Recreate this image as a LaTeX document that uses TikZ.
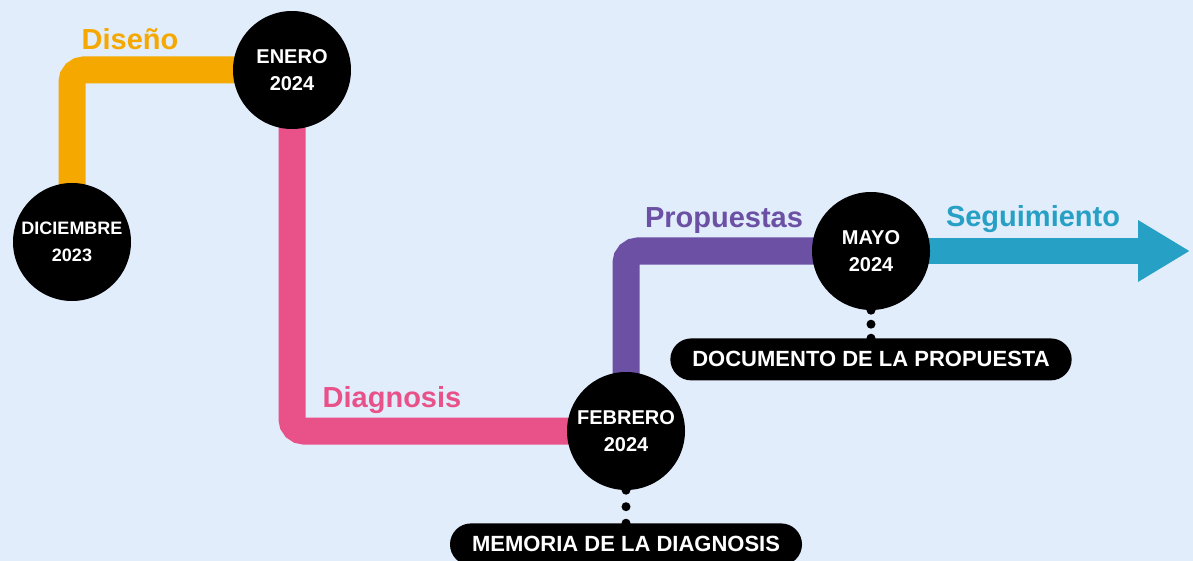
\documentclass[tikz,border=0pt]{standalone}
\usepackage{fontspec}
\setsansfont{Liberation Sans}
\usetikzlibrary{positioning,calc,arrows.meta}
\definecolor{cielo}{RGB}{226,237,252}
\definecolor{naranja}{RGB}{245,168,0}
\definecolor{rosa}{RGB}{233,81,137}
\definecolor{morado}{RGB}{107,80,164}
\definecolor{turquesa}{RGB}{38,160,196}
\pgfdeclarelayer{fondo}
\pgfsetlayers{fondo,main}
\tikzset{
  hito/.style={circle,fill=black,minimum size=118pt,inner sep=0pt,text=white,align=center,
    font=\sffamily\bfseries\fontsize{20}{27}\selectfont},
  tramo/.style={line width=27pt,rounded corners=12pt},
  etapa/.style={anchor=base,font=\sffamily\bfseries\fontsize{29}{29}\selectfont},
  entrega/.style={rectangle,rounded corners=21pt,fill=black,text=white,minimum height=42pt,
    inner xsep=22pt,inner ysep=0pt,font=\sffamily\bfseries\fontsize{22}{22}\selectfont},
}

\begin{document}
\begin{tikzpicture}[x=1pt,y=-1pt]
\useasboundingbox (0,0) rectangle (1193,561);
% hitos
\node[hito,font=\sffamily\bfseries\fontsize{18}{27}\selectfont] (dic) at (72,242) {DICIEMBRE\\2023};
\node[hito] (ene) at (292,70) {ENERO\\2024};
\node[hito] (feb) at (626,431) {FEBRERO\\2024};
\node[hito] (may) at (871,251) {MAYO\\2024};
\coordinate (fin) at (1190,251);
% entregables
\node[entrega,below=33pt of feb] (memoria) {MEMORIA DE LA DIAGNOSIS};
\node[entrega,below=28pt of may] (documento) {DOCUMENTO DE LA PROPUESTA};
\foreach \a/\b in {feb/memoria,may/documento}
  \foreach \t in {0,0.5,1}
    \fill ($(\a.south)!\t!(\b.north)$) circle[radius=4.5pt];
% etapas
\node[etapa,text=naranja] (diseno) at (130,50) {Diseño};
\node[etapa,text=rosa] (diagnosis) at (392,407) {Diagnosis};
\node[etapa,text=morado] (propuestas) at (724,228) {Propuestas};
\node[etapa,text=turquesa] (seguimiento) at (1033,227) {Seguimiento};
\begin{pgfonlayer}{fondo}
\fill[cielo] (0,0) rectangle (1193,561);
\draw[tramo,naranja] (dic.center) |- (ene.center);
\draw[tramo,rosa] (ene.center) |- (feb.center);
\draw[tramo,morado] (feb.center) |- (may.center);
\draw[line width=26pt,turquesa,-{Triangle[length=52pt,width=58pt]}] (may.center) -- (fin);
\end{pgfonlayer}
\end{tikzpicture}
\end{document}
